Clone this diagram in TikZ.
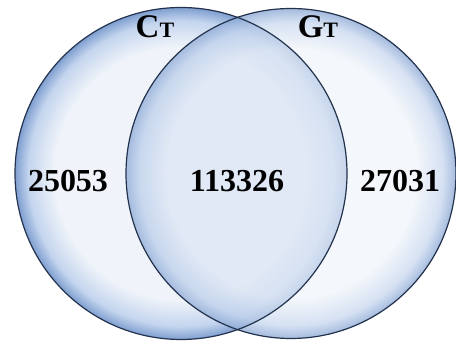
\documentclass[tikz,border=0pt]{standalone}
\usepackage{fontspec}
\setmainfont{Liberation Serif}
\definecolor{vwhite}{HTML}{F0F4FA}
\definecolor{vmid}{HTML}{C4D5EE}
\definecolor{vedge}{HTML}{7F9FD0}
\definecolor{vline}{HTML}{23324D}
\definecolor{vtint}{HTML}{B4C9E8}
% path bounding box maps to the central 50bp square, so the rim sits at 25bp
\pgfdeclareradialshading{vennglow}{\pgfpoint{0bp}{0bp}}{%
  color(0bp)=(vwhite); color(19bp)=(vwhite); color(23bp)=(vmid); color(25bp)=(vedge); color(50bp)=(vedge)}
\begin{document}
\begin{tikzpicture}[x=1pt,y=1pt,
  setcircle/.style={shading=vennglow},
  rim/.style={draw=vline,line width=1.2pt},
  count/.style={font=\bfseries\fontsize{32}{32}\selectfont,inner sep=0pt},
  setname/.style={font=\bfseries,inner sep=0pt,anchor=base}]
\useasboundingbox (0,0) rectangle (456,344);
\fill[white] (0,0) rectangle (456,344);
\coordinate (cl) at (181,170.5);
\coordinate (cr) at (291,170.5);
% the two sets, glossy shading
\shade[setcircle] (cl) circle[radius=166];
\shade[setcircle,fill opacity=0.7] (cr) circle[radius=165];
% extra tint over the shared region
\begin{scope}
  \clip (cl) circle[radius=166];
  \fill[vtint,fill opacity=0.25] (cr) circle[radius=165];
\end{scope}
\draw[rim] (cl) circle[radius=166];
\draw[rim] (cr) circle[radius=165];
% counts
\node[count] (a) at (68,163) {25053};
\node[count] (b) at (237,163) {113326};
\node[count] (c) at (400,163) {27031};
% set names
\node[setname] (ct) at (155,306) {{\fontsize{33}{33}\selectfont C}{\fontsize{22}{22}\selectfont T}};
\node[setname] (gt) at (318,306) {{\fontsize{33}{33}\selectfont G}{\fontsize{22}{22}\selectfont T}};
\end{tikzpicture}
\end{document}
